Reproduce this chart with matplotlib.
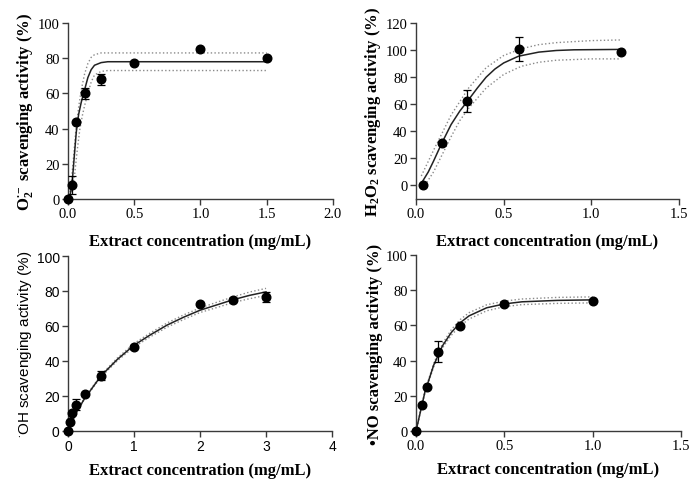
import matplotlib
matplotlib.use('Agg')
import matplotlib.pyplot as plt

plt.rcParams['font.family'] = 'Liberation Serif'
plt.rcParams['mathtext.fontset'] = 'custom'
plt.rcParams['mathtext.rm'] = 'Liberation Serif'
plt.rcParams['mathtext.bf'] = 'Liberation Serif:bold'
plt.rcParams['mathtext.it'] = 'Liberation Serif:italic'

# ---- superoxide (O2•-) ----
o2_x = [0, 0.03125, 0.0625, 0.125, 0.25, 0.5, 1.0, 1.5]
o2_y = [0, 8, 44, 60, 68, 77, 85, 80]
o2_err = [0, 5, 0, 3, 3, 0, 0, 0]
o2_fit_x = [0, 0.015, 0.03, 0.045, 0.0625, 0.08, 0.1, 0.125, 0.15, 0.175, 0.2, 0.25, 0.3, 1.5]
o2_fit_y = [0, 2, 8, 22, 38, 48, 55, 62, 69, 73.5, 76, 77.5, 78, 78]
o2_hi_x = [0, 0.02, 0.04, 0.06, 0.08, 0.1, 0.125, 0.15, 0.175, 0.2, 0.25, 1.5]
o2_hi_y = [0, 6, 22, 40, 52, 62, 71, 77, 80.5, 82, 83, 83]
o2_lo_x = [0.01, 0.03, 0.05, 0.07, 0.09, 0.11, 0.125, 0.15, 0.175, 0.2, 0.25, 0.3, 1.5]
o2_lo_y = [0, 4, 14, 28, 40, 48, 53, 60, 66.5, 70.5, 72.5, 73, 73]

# ---- hydrogen peroxide ----
h2_x = [0.037, 0.146, 0.292, 0.585, 1.17]
h2_y = [0, 31.5, 62.5, 101, 98.5]
h2_err = [0, 0, 8, 9, 0]
h2_fit_x = [0.037, 0.07, 0.1, 0.146, 0.2, 0.25, 0.292, 0.35, 0.4, 0.45, 0.5, 0.585, 0.7, 0.8, 0.9, 1.17]
h2_fit_y = [3, 10, 18, 31, 45, 55, 62, 72, 80, 86, 90.5, 95.5, 98.5, 99.7, 100.2, 100.5]
h2_hi_x = [0.03, 0.1, 0.15, 0.2, 0.25, 0.3, 0.4, 0.5, 0.6, 0.7, 0.8, 1.0, 1.17]
h2_hi_y = [7, 26, 39, 52, 62, 72, 87, 96, 101, 104, 105.5, 107, 107.5]
h2_lo_x = [0.05, 0.1, 0.15, 0.2, 0.25, 0.3, 0.4, 0.5, 0.6, 0.7, 0.8, 1.0, 1.17]
h2_lo_y = [0, 10, 23, 36, 48, 57, 72, 82, 88, 91, 92.5, 93.5, 93.5]

# ---- hydroxyl radical ----
oh_x = [0, 0.03125, 0.0625, 0.125, 0.25, 0.5, 1.0, 2.0, 2.5, 3.0]
oh_y = [0, 5, 10, 15, 21, 31.5, 48, 72.5, 75, 76.5]
oh_err = [0, 0, 0, 3, 0, 2.5, 0, 0, 0, 3]
oh_fit_x = [0, 0.125, 0.25, 0.5, 0.75, 1.0, 1.25, 1.5, 1.75, 2.0, 2.25, 2.5, 2.75, 3.0]
oh_fit_y = [0, 10.5, 18.5, 31.5, 41, 49, 55, 60.5, 65, 69, 72, 75, 77.5, 79.5]
oh_hi_y = [0, 10.7, 18.8, 32.1, 41.8, 50, 56.1, 61.7, 66.3, 70.3, 73.5, 76.6, 79.4, 81.5]
oh_lo_y = [0, 10.3, 18.2, 30.9, 40.2, 48, 53.9, 59.3, 63.7, 67.7, 70.5, 73.4, 75.6, 77.5]

# ---- nitric oxide ----
no_x = [0, 0.03125, 0.0625, 0.125, 0.25, 0.5, 1.0]
no_y = [0, 14.5, 25, 45, 59.5, 72, 74]
no_err = [0, 0, 0, 6, 0, 0, 0]
no_fit_x = [0, 0.05, 0.1, 0.15, 0.2, 0.25, 0.3, 0.4, 0.5, 0.6, 0.8, 1.0]
no_fit_y = [0, 22, 37.4, 48.4, 56, 61.5, 65.4, 70, 72.2, 73.4, 74.2, 74.5]
no_hi_y = [0, 22.5, 38.4, 49.6, 57.6, 63.3, 67.2, 71.7, 73.8, 75, 75.9, 76.2]
no_lo_y = [0, 21.5, 36.4, 47.2, 54.4, 59.7, 63.6, 68.3, 70.6, 71.8, 72.5, 72.8]

AX = '#3a3a3a'


def panel(ax, x, y, err, fx, fy, hx, hy, lx, ly, xlim, xticks, xfmt, ylim, yticks, ylab,
          sans=False, xpad=8):
    ax.plot(hx, hy, linestyle=':', color='#8a8a8a', linewidth=1.0)
    ax.plot(lx, ly, linestyle=':', color='#8a8a8a', linewidth=1.0)
    ax.plot(fx, fy, linestyle='-', color='#222222', linewidth=1.1)
    ax.errorbar(x, y, yerr=err, fmt='o', color='black', markersize=6.2,
                ecolor='black', elinewidth=0.9, capsize=3, capthick=0.9,
                clip_on=False, zorder=5)
    ax.set_xlim(*xlim)
    ax.set_ylim(*ylim)
    ax.set_xticks(xticks)
    ax.set_xticklabels([xfmt.format(t) for t in xticks])
    ax.set_yticks(yticks)
    for s in ['top', 'right']:
        ax.spines[s].set_visible(False)
    for s in ['left', 'bottom']:
        ax.spines[s].set_color(AX)
        ax.spines[s].set_linewidth(1.0)
    ax.tick_params(direction='out', length=4, width=1.0, color=AX, pad=2)
    fam = 'Liberation Sans' if sans else 'Liberation Serif'
    for lab in ax.get_xticklabels() + ax.get_yticklabels():
        lab.set_family(fam)
        lab.set_fontsize(10 if sans else 10.5)
    ax.set_xlabel('Extract concentration (mg/mL)', fontsize=12, fontweight='bold',
                  family='Liberation Serif', labelpad=xpad)
    if sans:
        ax.set_ylabel(ylab, fontsize=11, family='Liberation Sans', labelpad=2)
    else:
        ax.set_ylabel(ylab, fontsize=12, fontweight='bold', family='Liberation Serif', labelpad=2)


fig = plt.figure(figsize=(6.89, 4.85), dpi=100)
ax1 = fig.add_axes([0.0987, 0.5876, 0.3846, 0.3629])
ax2 = fig.add_axes([0.6038, 0.5876, 0.3817, 0.3629])
ax3 = fig.add_axes([0.0987, 0.1093, 0.3832, 0.3608])
ax4 = fig.add_axes([0.6038, 0.1093, 0.3846, 0.3629])

panel(ax1, o2_x, o2_y, o2_err, o2_fit_x, o2_fit_y, o2_hi_x, o2_hi_y, o2_lo_x, o2_lo_y,
      (0, 2.0), [0, 0.5, 1.0, 1.5, 2.0], '{:.1f}', (0, 100), [0, 20, 40, 60, 80, 100],
      r'$\mathbf{O_2^{\bullet -}}$ scavenging activity (%)', xpad=9)
panel(ax2, h2_x, h2_y, h2_err, h2_fit_x, h2_fit_y, h2_hi_x, h2_hi_y, h2_lo_x, h2_lo_y,
      (0, 1.5), [0, 0.5, 1.0, 1.5], '{:.1f}', (-10, 120), [0, 20, 40, 60, 80, 100, 120],
      r'$\mathbf{H_2O_2}$ scavenging activity (%)', xpad=9)
panel(ax3, oh_x, oh_y, oh_err, oh_fit_x, oh_fit_y, oh_fit_x, oh_hi_y, oh_fit_x, oh_lo_y,
      (0, 4), [0, 1, 2, 3, 4], '{:d}', (0, 100), [0, 20, 40, 60, 80, 100],
      r'$^{\bullet}$OH scavenging activity (%)', sans=True, xpad=6)
panel(ax4, no_x, no_y, no_err, no_fit_x, no_fit_y, no_fit_x, no_hi_y, no_fit_x, no_lo_y,
      (0, 1.5), [0, 0.5, 1.0, 1.5], '{:.1f}', (0, 100), [0, 20, 40, 60, 80, 100],
      '\u2022NO scavenging activity (%)', xpad=6)

fig.savefig('out.png', dpi=100)
